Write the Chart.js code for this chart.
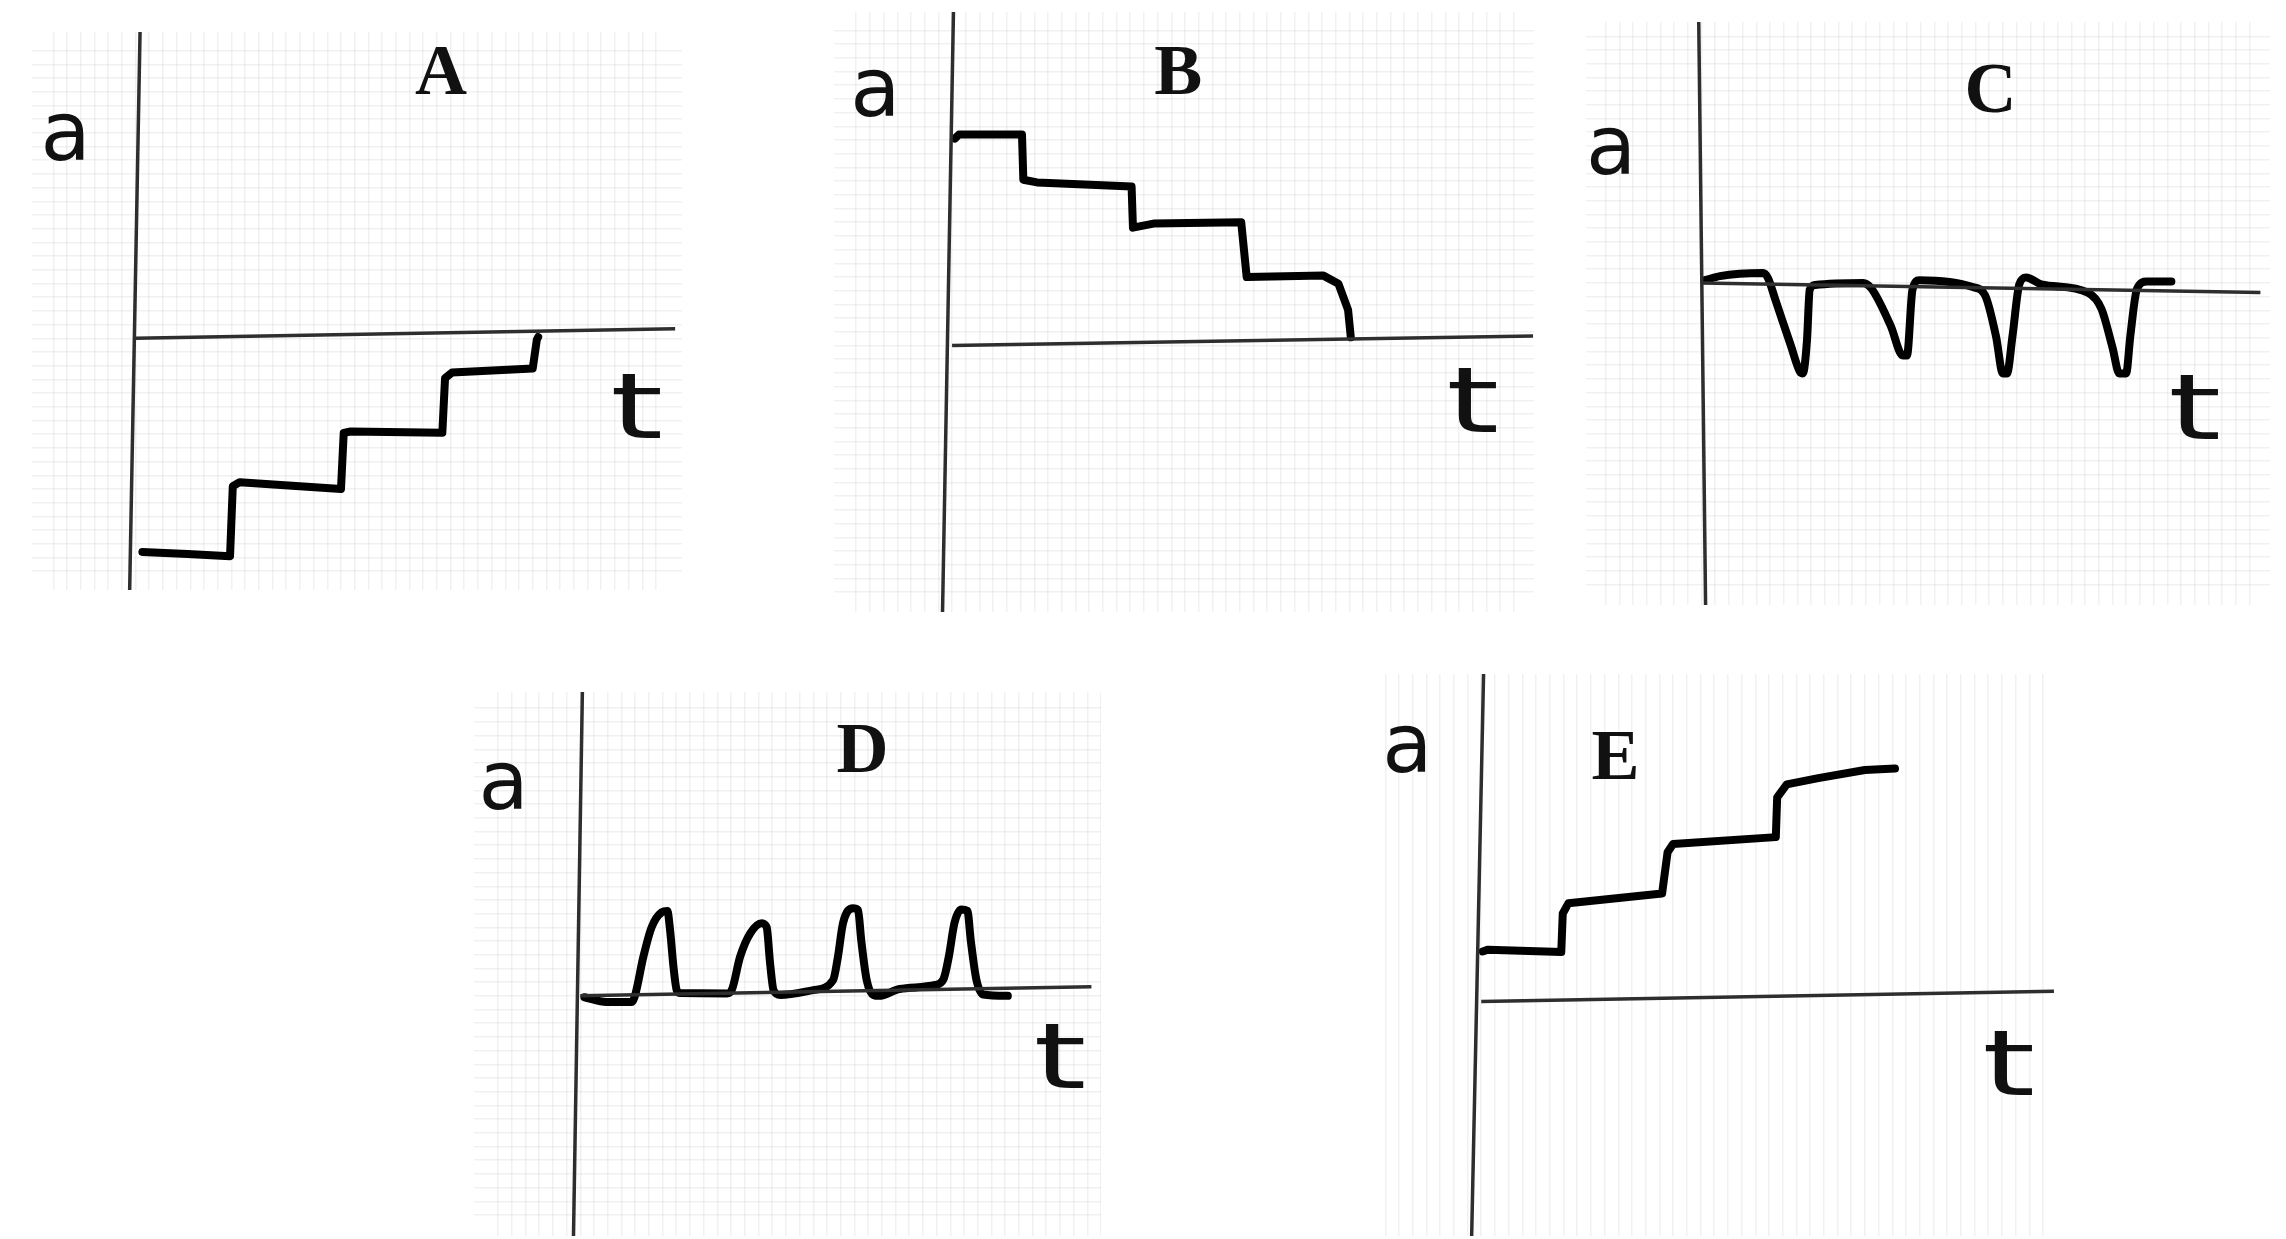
<!DOCTYPE html>
<html>
<head>
<meta charset="utf-8">
<script src="https://cdn.jsdelivr.net/npm/chart.js@4.4.0/dist/chart.umd.min.js"></script>
<style>
  body { margin: 0; background: #fff; width: 2286px; height: 1239px; position: relative; overflow: hidden; }
  .panel { position: absolute; }
</style>
</head>
<body>
<div class="panel" style="left:32px;top:32px;width:650px;height:558px"><canvas id="chartA"></canvas></div>
<div class="panel" style="left:834px;top:12px;width:700px;height:600px"><canvas id="chartB"></canvas></div>
<div class="panel" style="left:1586px;top:22px;width:684px;height:583px"><canvas id="chartC"></canvas></div>
<div class="panel" style="left:474px;top:692px;width:627px;height:544px"><canvas id="chartD"></canvas></div>
<div class="panel" style="left:1370px;top:674px;width:689px;height:562px"><canvas id="chartE"></canvas></div>
<script>
// values are in grid squares of the graph paper (time t, acceleration a)
const timeA  = [0.5, 3.8, 6.9, 7.1, 7.6, 15.0, 15.2, 15.7, 22.4, 22.6, 23.1, 29.0, 29.3, 29.4];
const accelA = [-15.6, -15.75, -15.9, -10.8, -10.5, -11.0, -6.9, -6.8, -6.9, -2.9, -2.5, -2.2, -0.1, 0.1];

const timeB  = [0.2, 0.5, 5.1, 5.2, 6.2, 13.1, 13.2, 14.7, 21.1, 21.5, 27.1, 28.2, 28.9, 29.1];
const accelB = [15.1, 15.4, 15.4, 12.1, 11.9, 11.6, 8.6, 8.9, 9.0, 5.0, 5.1, 4.5, 2.6, 0.6];

const timeC  = [0.26, 1.35, 4.5, 4.85, 5.4, 6.5, 7.2, 7.4, 7.7, 7.9, 8.3, 11.8, 12.4, 13.8, 14.7, 15.0, 15.4, 15.9,
                19.8, 20.7, 21.5, 22.0, 22.3, 22.7, 23.2, 23.7, 24.8, 28.2, 29.2, 30.0, 30.5, 31.0, 31.3, 31.8, 32.5, 34.3];
const accelC = [0.2, 0.5, 0.72, 0.36, -1.25, -4.5, -6.5, -6.6, -4.2, -0.5, -0.15, 0, -0.4, -3.1, -5.3, -5.3, -0.5, 0.2,
                -0.3, -0.9, -3.9, -6.6, -6.6, -3.9, -0.1, 0.4, -0.1, -0.7, -1.9, -4.7, -6.6, -6.6, -3.9, -0.4, 0.1, 0.1];

const timeD  = [0.3, 1.9, 3.75, 4.0, 4.6, 5.2, 5.94, 6.35, 6.55, 6.8, 7.04, 7.3, 10.7, 11.05, 11.66, 12.4, 13.24, 13.6, 13.85, 14.1, 14.6,
                17.0, 18.45, 18.8, 19.17, 19.9, 20.27, 20.5, 20.9, 21.4, 21.8, 23.3, 25.9, 26.5, 26.9, 27.3, 27.8, 28.25, 28.5, 28.9, 29.4, 31.2];
const accelD = [-0.1, -0.45, -0.45, 0.06, 2.85, 5.0, 6.1, 6.2, 4.8, 2.1, 0.4, 0.2, 0.18, 0.42, 2.85, 4.56, 5.3, 5.0, 2.37, 0.42, 0.06,
                0.42, 1.15, 2.85, 5.3, 6.4, 6.26, 4.07, 1.15, 0.06, 0, 0.5, 0.8, 1.2, 2.9, 5.3, 6.3, 6.2, 4.0, 1.2, 0.1, 0];

const timeE  = [0.1, 0.5, 5.84, 5.95, 6.36, 13.2, 13.6, 14.0, 21.5, 21.6, 22.3, 24.6, 28.0, 30.2];
const accelE = [3.56, 3.69, 3.51, 6.33, 7.07, 7.78, 10.8, 11.4, 11.9, 14.8, 15.75, 16.2, 16.8, 16.9];

// hand drawn axes: [start, end]
const tAxisT = { A: [0, 39.4], B: [0, 42.4], C: [0, 40.8], D: [0, 37.3], E: [0, 41.8] };
const tAxisA = { A: [0, 0.7],  B: [0, 0.7],  C: [0, -0.7], D: [0, 0.66], E: [-0.1, 0.66] };
const aAxisT = { A: [0.33, -0.43], B: [0.1, -0.7], C: [-0.2, 0.3], D: [0.15, -0.5], E: [0.17, -0.7] };
const aAxisA = { A: [22.4, -18.4], B: [24.4, -19.5], C: [19.1, -23.5], D: [22.2, -17.6], E: [23.8, -17.2] };

const panelNames = ['A', 'B', 'C', 'D', 'E'];

const bounds = {
  A: { xmin: -7.56, xmax: 39.9, ymin: -18.37, ymax: 22.36 },
  B: { xmin: -8.62, xmax: 42.47, ymin: -19.45, ymax: 24.34 },
  C: { xmin: -8.43, xmax: 41.5, ymin: -23.5, ymax: 19.04 },
  D: { xmin: -7.76, xmax: 38.0, ymin: -17.53, ymax: 22.18 },
  E: { xmin: -8.12, xmax: 42.17, ymin: -17.2, ymax: 23.8 }
};

// where the letters sit (in the same grid units)
const titlePos = { A: [22.3, 19.2], B: [16.5, 19.7], C: [21.1, 13.8], D: [20.6, 17.7], E: [9.8, 17.5] };
const aLabelPos = { A: [-5.1, 14.6], B: [-5.6, 18.3], C: [-6.6, 9.5], D: [-5.6, 15.2], E: [-5.4, 18.2] };
const tLabelPos = { A: [36.6, -5.6], B: [38.0, -4.6], C: [36.0, -9.7], D: [35.0, -5.0], E: [38.5, -5.2] };

const curves = { A: [timeA, accelA], B: [timeB, accelB], C: [timeC, accelC], D: [timeD, accelD], E: [timeE, accelE] };

const toPoints = (ts, as) => ts.map((t, i) => ({ x: t, y: as[i] }));

const labelPlugin = {
  id: 'panelLabels',
  afterDatasetsDraw(chart, args, opts) {
    const { ctx, scales: { x, y } } = chart;
    (opts.items || []).forEach(it => {
      ctx.save();
      ctx.font = it.font;
      ctx.fillStyle = '#111';
      ctx.textAlign = 'center';
      ctx.textBaseline = 'middle';
      ctx.translate(x.getPixelForValue(it.pos[0]), y.getPixelForValue(it.pos[1]));
      ctx.scale(it.sx || 1, 1);
      ctx.fillText(it.text, 0, 0);
      ctx.restore();
    });
  }
};

const gridColor = ctx => {
  const v = ctx.tick.value;
  return Math.abs(v - Math.round(v)) < 1e-6 ? 'rgba(0,0,0,0.055)' : 'rgba(0,0,0,0)';
};

panelNames.forEach(p => {
  const b = bounds[p];
  const [ts, as] = curves[p];
  const smooth = (p === 'C' || p === 'D');
  new Chart(document.getElementById('chart' + p), {
    type: 'line',
    data: {
      datasets: [
        {
          label: 'a axis',
          data: toPoints(aAxisT[p], aAxisA[p]),
          borderColor: '#2e2e2e',
          borderWidth: 3.5,
          pointRadius: 0,
          tension: 0
        },
        {
          label: 't axis',
          data: toPoints(tAxisT[p], tAxisA[p]),
          borderColor: '#2e2e2e',
          borderWidth: 3.5,
          pointRadius: 0,
          tension: 0
        },
        {
          label: 'a(t)',
          data: toPoints(ts, as),
          borderColor: '#000',
          borderWidth: 8,
          pointRadius: 0,
          borderJoinStyle: 'round',
          borderCapStyle: 'round',
          cubicInterpolationMode: smooth ? 'monotone' : 'default',
          tension: 0
        }
      ]
    },
    options: {
      responsive: true,
      maintainAspectRatio: false,
      animation: false,
      layout: { padding: 0 },
      plugins: {
        legend: { display: false },
        tooltip: { enabled: false },
        panelLabels: {
          items: [
            { text: p, pos: titlePos[p], font: "bold 72px 'Liberation Serif'" },
            { text: 'a', pos: aLabelPos[p], font: "82px 'DejaVu Sans'" },
            { text: 't', pos: tLabelPos[p], font: "90px 'DejaVu Sans'", sx: 1.5 }
          ]
        }
      },
      scales: {
        x: {
          type: 'linear', min: b.xmin, max: b.xmax,
          ticks: { display: false, stepSize: 1 },
          border: { display: false },
          grid: { color: gridColor, drawTicks: false, lineWidth: 1.5 }
        },
        y: {
          type: 'linear', min: b.ymin, max: b.ymax,
          ticks: { display: false, stepSize: 1 },
          border: { display: false },
          grid: { color: gridColor, drawTicks: false, lineWidth: 1.5 }
        }
      }
    },
    plugins: [labelPlugin]
  });
});
</script>
</body>
</html>
